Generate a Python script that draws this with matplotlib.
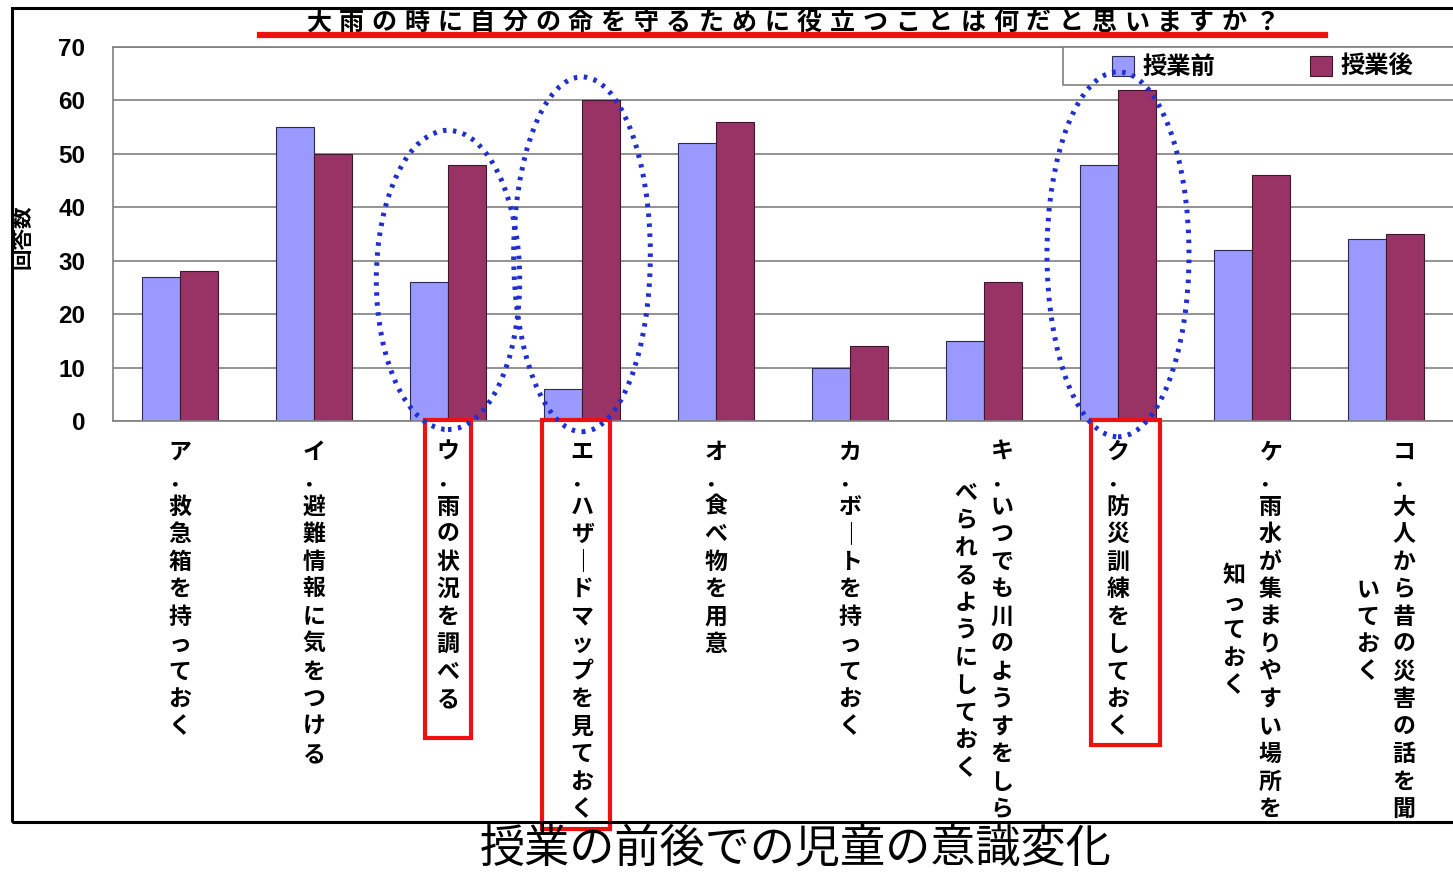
import matplotlib
matplotlib.use('Agg')
import matplotlib.pyplot as plt
import matplotlib.transforms as mtransforms
from matplotlib.patches import Ellipse, Rectangle
from matplotlib.lines import Line2D
import numpy as np

plt.rcParams['font.family'] = ['Noto Sans CJK JP', 'DejaVu Sans']

# データ
title = '大雨の時に自分の命を守るために役立つことは何だと思いますか？'
caption = '授業の前後での児童の意識変化'
series_names = ['授業前', '授業後']
labels = [
    ['ア．救急箱を持っておく'],
    ['イ．避難情報に気をつける'],
    ['ウ．雨の状況を調べる'],
    ['エ．ハザードマップを見ておく'],
    ['オ．食べ物を用意'],
    ['カ．ボートを持っておく'],
    ['キ．いつでも川のようすをしら', 'べられるようにしておく'],
    ['ク．防災訓練をしておく'],
    ['ケ．雨水が集まりやすい場所を', '知っておく'],
    ['コ．大人から昔の災害の話を聞', 'いておく'],
]
before = [27, 55, 26, 6, 52, 10, 15, 48, 32, 34]
after = [28, 50, 48, 60, 56, 14, 26, 62, 46, 35]
highlight = [2, 3, 7]   # ウ, エ, ク

W, H = 1453, 874
fig = plt.figure(figsize=(W / 100, H / 100), dpi=100)
ax = fig.add_axes([113 / W, 1 - 421 / H, 1 - 113 / W, (421 - 47) / H])

x = np.arange(len(before))
bw = 0.285
ax.bar(x - bw / 2, before, bw, color='#9999FF', edgecolor='#2a2a55', lw=0.8, zorder=2, label=series_names[0])
ax.bar(x + bw / 2, after, bw, color='#993366', edgecolor='#3a1a2a', lw=0.8, zorder=2, label=series_names[1])

ax.set_xlim(-0.5, len(before) - 0.5)
ax.set_ylim(0, 70)
ax.set_yticks(range(0, 71, 10))
ax.set_yticklabels([str(v) for v in range(0, 71, 10)], fontfamily='Liberation Sans',
                   fontweight='bold', fontsize=17.5)
ax.tick_params(axis='y', length=0, pad=20)
ax.tick_params(axis='x', length=0, labelbottom=False)
ax.set_axisbelow(True)
ax.yaxis.grid(True, color='#808080', lw=1.2)
for s in ['left', 'top', 'bottom']:
    ax.spines[s].set_color('#808080')
    ax.spines[s].set_linewidth(1.2)
ax.spines['right'].set_visible(False)

# 縦書きラベル
trans = mtransforms.blended_transform_factory(ax.transData, ax.transAxes)
top = -31 / 374
step = 27.5 / 374
colgap = 36 / 134


def draw_vertical(xc, lines):
    n = max(len(s) for s in lines)
    for j, s in enumerate(lines):
        cx = xc + (len(lines) - 1) / 2 * colgap - j * colgap
        start = (n - len(s)) / 2
        for k, ch in enumerate(s):
            if ch == 'ー':
                ch = '｜'
            ax.text(cx, top - (start + k) * step, ch, transform=trans, ha='center',
                    va='center', fontsize=16.5, fontweight='bold', clip_on=False)


for i, lab in enumerate(labels):
    draw_vertical(i, lab)

# 凡例
fig.patches.append(Rectangle((1063 / W, 1 - 85 / H), 0.4, 38 / H, transform=fig.transFigure,
                             facecolor='white', edgecolor='#808080', lw=1.2, zorder=2))
fig.legend(loc='center left', bbox_to_anchor=(1100 / W, 1 - 67 / H), ncol=2, frameon=False,
           prop={'size': 17.5, 'weight': 'bold'}, borderpad=0, handlelength=0.9,
           handleheight=0.9, handletextpad=0.35, columnspacing=3.9)

# 点線の楕円（凡例より前面）
ellipses = {2: (26.4, 1.07, 56), 3: (31.2, 1.02, 66.4), 7: (31.2, 1.06, 68.3)}
for i in highlight:
    cy, w, h = ellipses[i]
    fig.patches.append(Ellipse((i, cy), w, h, transform=ax.transData, fill=False,
                               edgecolor='#1f2fd0', lw=3.6, linestyle=(0, (0.7, 1.3)), zorder=7))

# 赤い枠
boxes = {2: (0.0, 0.343, 0.848), 3: (-0.045, 0.507, 1.09), 7: (0.056, 0.515, 0.866)}
for i in highlight:
    dx, w, h = boxes[i]
    ax.add_patch(Rectangle((i + dx - w / 2, -h), w, h + 0.004, transform=trans, fill=False,
                           edgecolor='#ee1111', lw=3, zorder=6, clip_on=False))

# タイトル
sp = 32.7
for k, ch in enumerate(title):
    fig.text((793 + (k - (len(title) - 1) / 2) * sp) / W, 1 - 23 / H, ch, ha='center',
             va='center', fontsize=18, fontweight='bold', zorder=3)
fig.lines.append(Line2D([260 / W, 1325 / W], [1 - 35 / H] * 2, transform=fig.transFigure,
                        color='#ee1111', lw=4.5, zorder=4))

ax.set_ylabel('回答数', fontsize=15.5, fontweight='bold')
ax.yaxis.set_label_coords(33 / W, 1 - 237 / H, transform=fig.transFigure)

# 外枠
fig.patches.append(Rectangle((12 / W, 1 - 822 / H), 1.2, (822 - 8) / H, transform=fig.transFigure,
                             fill=False, edgecolor='black', lw=2.2, zorder=10))

fig.text(796 / W, 1 - 849 / H, caption, ha='center', va='center', fontsize=32.5)

fig.savefig('out.png', dpi=100)
